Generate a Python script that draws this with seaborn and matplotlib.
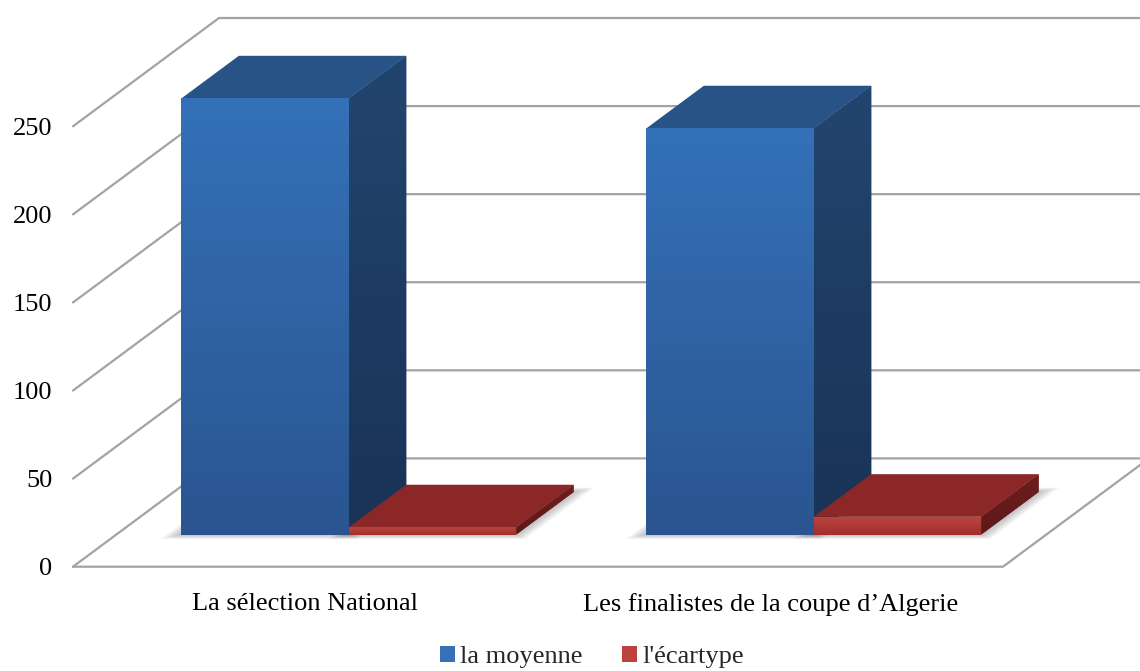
import numpy as np
import pandas as pd
import matplotlib
matplotlib.use("Agg")
import matplotlib.pyplot as plt
import seaborn as sns
from matplotlib.patches import Polygon, Patch
from matplotlib.transforms import ScaledTranslation
from matplotlib.lines import Line2D
from matplotlib.colors import to_rgb

# ---------------- data ----------------
categories = ["La sélection National", "Les finalistes de la coupe d’Algerie"]
series = ["la moyenne", "l'écartype"]
moyenne = [247.6, 230.6]
ecartype = [4.1, 10.1]
y_ticks = [0, 50, 100, 150, 200, 250]

df = pd.DataFrame({
    "categorie": categories * 2,
    "serie": [series[0]] * len(categories) + [series[1]] * len(categories),
    "valeur": moyenne + ecartype,
})

# ---------------- style ----------------
sns.set_theme(style="white")
plt.rcParams["font.family"] = ["Liberation Serif", "DejaVu Serif"]

W, H, DPI = 1140, 671, 100
fig = plt.figure(figsize=(W / DPI, H / DPI), dpi=DPI)
ax = fig.add_axes([73 / W, 104.3 / H, 930 / W, 440.4 / H])

front_col = {"la moyenne": "#2E63A5", "l'écartype": "#A83232"}
front_grad = {"la moyenne": ("#3471B8", "#2A5590"), "l'écartype": ("#BA433D", "#A22E2D")}
top_col = {"la moyenne": "#275387", "l'écartype": "#8B2727"}
side_grad = {"la moyenne": ("#22456F", "#1A3356"), "l'écartype": ("#6E1E1E", "#5E1818")}

sns.barplot(data=df, x="categorie", y="valeur", hue="serie",
            order=categories, hue_order=series, palette=front_col,
            width=0.72, saturation=1, errorbar=None, legend=False,
            linewidth=0, ax=ax)
ax.set_xlim(-0.5, 1.5)
ax.set_ylim(0, 250)
ax.set_autoscale_on(False)

# 3-D oblique depth (pixels): full floor depth
DX, DY = 146.0, 108.3
F0, F1 = 0.297, 0.69   # bar front / back depth fraction
grid_c = "#A3A3A3"
D = np.array([DX, DY])
T = fig.dpi_scale_trans


def disp(x, y):
    return np.array(ax.transData.transform((x, y)))


def to_in(p):
    return np.asarray(p, dtype=float) / DPI


def add_line(pts, **kw):
    pts = to_in(pts)
    ax.add_line(Line2D(pts[:, 0], pts[:, 1], transform=T, clip_on=False, **kw))


def gradient(poly, c_top, c_bot, zorder, clip):
    pts = np.asarray(poly.get_xy())
    l, r = pts[:, 0].min(), pts[:, 0].max()
    b, t = pts[:, 1].min(), pts[:, 1].max()
    n = 64
    a = np.linspace(0, 1, n)[:, None]
    ct, cb = np.array(to_rgb(c_top)), np.array(to_rgb(c_bot))
    img = (ct * (1 - a) + cb * a)[:, None, :]
    im = ax.imshow(img, extent=(l, r, b, t), transform=T, aspect="auto",
                   interpolation="bilinear", zorder=zorder, origin="upper")
    im.set_clip_path(clip)
    im.set_clip_box(fig.bbox)
    return im


# walls & floor grid
for v in y_ticks:
    pf = disp(-0.5, v)
    pb = pf + D
    pr = disp(1.5, v) + D
    add_line([pf, pb, pr], color=grid_c, lw=1.6, zorder=1)
p0 = disp(-0.5, 0); p1 = disp(1.5, 0); p2 = p1 + D
add_line([p0, p1, p2], color=grid_c, lw=1.6, zorder=1)

# 3-D faces for each bar
off = ScaledTranslation(F0 * DX / DPI, F0 * DY / DPI, T)
hue_of = {}
for i, s in enumerate(series):
    for p in ax.containers[i]:
        hue_of[id(p)] = s
bars = sorted(ax.patches, key=lambda p: p.get_x())
Dn = D / np.linalg.norm(D)
z = 3
for p in bars:
    s = hue_of[id(p)]
    x0, y0 = p.get_x(), p.get_y()
    x1, y1 = x0 + p.get_width(), y0 + p.get_height()
    f = D * F0
    b = D * F1
    a00, a10, a11, a01 = disp(x0, y0), disp(x1, y0), disp(x1, y1), disp(x0, y1)

    # soft floor shadow (stacked translucent footprints)
    for k, rr in enumerate(np.linspace(15, 2, 8)):
        ex = np.array([rr, 0.0])
        ed = Dn * rr * 0.5
        fp = [a00 + f - ex - ed, a10 + f + ex - ed, a10 + b + ex + ed, a00 + b - ex + ed]
        ax.add_patch(Polygon(to_in(fp), closed=True, transform=T, facecolor="black",
                             alpha=0.03, edgecolor="none", zorder=2, clip_on=False))

    top = [a01 + f, a11 + f, a11 + b, a01 + b]
    side = [a10 + f, a11 + f, a11 + b, a10 + b]
    sp = Polygon(to_in(side), closed=True, transform=T, facecolor=side_grad[s][0],
                 edgecolor="none", zorder=z, clip_on=False)
    ax.add_patch(sp)
    gradient(sp, side_grad[s][0], side_grad[s][1], z + 0.1, sp)
    tp = Polygon(to_in(top), closed=True, transform=T, facecolor=top_col[s],
                 edgecolor="none", zorder=z + 0.2, clip_on=False)
    ax.add_patch(tp)

    p.set_transform(ax.transData + off)
    p.set_clip_on(False)
    p.set_zorder(z + 0.3)
    fpts = [a00 + f, a10 + f, a11 + f, a01 + f]
    fpoly = Polygon(to_in(fpts), closed=True, transform=T, facecolor="none",
                    edgecolor="none", zorder=z + 0.3, clip_on=False)
    ax.add_patch(fpoly)
    gradient(fpoly, front_grad[s][0], front_grad[s][1], z + 0.4, fpoly)
    z += 1

ax.set_xlim(-0.5, 1.5)
ax.set_ylim(0, 250)

for spn in ax.spines.values():
    spn.set_visible(False)
ax.set_facecolor("none")
ax.set_xlabel("")
ax.set_ylabel("")
ax.set_yticks(y_ticks)
ax.tick_params(axis="y", length=0, pad=15, labelsize=19, colors="black")
ax.tick_params(axis="x", length=0, pad=19, labelsize=19, colors="black")
ax.grid(False)

handles = [Patch(facecolor=front_grad[s][0], edgecolor="none", label=s) for s in series]
fig.legend(handles=handles, loc="center", bbox_to_anchor=(592 / W, 1 - 657 / H),
           ncol=2, frameon=False, fontsize=19, handlelength=0.55, handleheight=0.55,
           handletextpad=0.2, columnspacing=1.5)

fig.savefig("out.png", dpi=DPI, facecolor="white")
